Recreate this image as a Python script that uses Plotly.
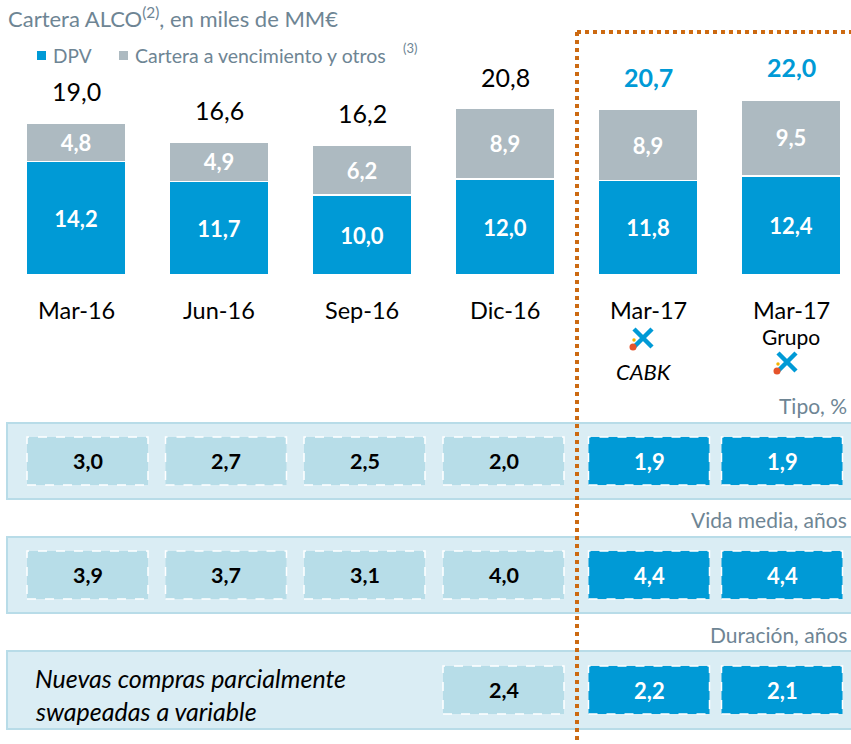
import plotly.graph_objects as go

# ---------------- data ----------------
categories = ["Mar-16", "Jun-16", "Sep-16", "Dic-16", "Mar-17", "Mar-17"]
sublabels = ["", "", "", "", "", "Grupo"]
dpv = [14.2, 11.7, 10.0, 12.0, 11.8, 12.4]
vencimiento = [4.8, 4.9, 6.2, 8.9, 8.9, 9.5]
totals = [19.0, 16.6, 16.2, 20.8, 20.7, 22.0]
tipo = [3.0, 2.7, 2.5, 2.0, 1.9, 1.9]
vida_media = [3.9, 3.7, 3.1, 4.0, 4.4, 4.4]
duracion = [None, None, None, 2.4, 2.2, 2.1]
highlight = [False, False, False, False, True, True]

# ---------------- style ----------------
W, H = 851, 744
BLUE = "#009ad6"
GREY = "#adbac1"
SLATE = "#6e8594"
ORANGE = "#cc6a12"
PANEL = "#daedf4"
PANEL_LINE = "#b8dce8"
LIGHTBOX = "#b7dde8"
FONT = "Lato"

X0, DX = 76, 143          # pixel centre of first bar, spacing
Y0, PXU = 275, 8.0        # pixel of value 0, pixels per unit


def fmt(v):
    return f"{v:.1f}".replace(".", ",")


def px2x(p):
    return (p - X0) / DX


def py2y(p):
    return (Y0 - p) / PXU


def px(p):
    return p / W


def py(p):
    return 1 - p / H


xs = list(range(len(categories)))

fig = go.Figure()
fig.add_trace(go.Bar(
    x=xs, y=dpv, name="DPV", marker=dict(color=BLUE, line=dict(color="white", width=1.5)),
    width=100 / DX, text=[fmt(v) for v in dpv], textposition="inside",
    insidetextanchor="middle", textangle=0,
    textfont=dict(family=FONT, size=22, color="white", weight="bold"),
    hoverinfo="skip"))
fig.add_trace(go.Bar(
    x=xs, y=vencimiento, name="Cartera a vencimiento y otros",
    marker=dict(color=GREY, line=dict(color="white", width=1.5)),
    width=100 / DX, text=[fmt(v) for v in vencimiento], textposition="inside",
    insidetextanchor="middle", textangle=0,
    textfont=dict(family=FONT, size=22, color="white", weight="bold"),
    hoverinfo="skip"))

shapes = []
ann = []

# title + legend
ann.append(dict(x=px(6), y=py(18), xref="paper", yref="paper", xanchor="left", yanchor="middle",
                text="Cartera ALCO<sup>(2)</sup>, en miles de MM€", showarrow=False,
                font=dict(family=FONT, size=22, color=SLATE)))
shapes.append(dict(type="rect", xref="paper", yref="paper", x0=px(37), x1=px(46), y0=py(60), y1=py(51),
                   fillcolor=BLUE, line=dict(width=0)))
ann.append(dict(x=px(51), y=py(55), xref="paper", yref="paper", xanchor="left", yanchor="middle",
                text="DPV", showarrow=False, font=dict(family=FONT, size=19, color=SLATE)))
shapes.append(dict(type="rect", xref="paper", yref="paper", x0=px(119), x1=px(128), y0=py(60), y1=py(51),
                   fillcolor=GREY, line=dict(width=0)))
ann.append(dict(x=px(133), y=py(55), xref="paper", yref="paper", xanchor="left", yanchor="middle",
                text="Cartera a vencimiento y otros", showarrow=False,
                font=dict(family=FONT, size=19.5, color=SLATE)))
ann.append(dict(x=px(401), y=py(48), xref="paper", yref="paper", xanchor="left", yanchor="middle",
                text="(3)", showarrow=False, font=dict(family=FONT, size=13, color=SLATE)))

# totals
for i, t in enumerate(totals):
    ann.append(dict(x=i, y=t, xref="x", yref="y", yshift=32, text=fmt(t), showarrow=False,
                    xanchor="center", yanchor="middle",
                    font=dict(family=FONT, size=25,
                              color=BLUE if highlight[i] else "black",
                              weight="bold" if highlight[i] else "normal")))

# category labels
for i, c in enumerate(categories):
    ann.append(dict(x=i, y=py(310), xref="x", yref="paper", text=c, showarrow=False,
                    xanchor="center", yanchor="middle", font=dict(family=FONT, size=23.5, color="black")))
    if sublabels[i]:
        ann.append(dict(x=i, y=py(337), xref="x", yref="paper", text=sublabels[i], showarrow=False,
                        xanchor="center", yanchor="middle", font=dict(family=FONT, size=21, color="black")))
ann.append(dict(x=4, y=py(371), xref="x", yref="paper", xshift=-4, text="<i>CABK</i>", showarrow=False,
                xanchor="center", yanchor="middle", font=dict(family=FONT, size=22, color="black")))

# logos (approximate CaixaBank star)
logo_centres = [(643, 338), (787, 362)]
fig.add_trace(go.Scatter(
    x=[px2x(a) for a, b in logo_centres], y=[py2y(b) for a, b in logo_centres],
    mode="markers", marker=dict(symbol="x-thin-open", size=18, color=BLUE, line=dict(color=BLUE, width=4.5)),
    hoverinfo="skip", showlegend=False))
fig.add_trace(go.Scatter(
    x=[px2x(a - 10) for a, b in logo_centres], y=[py2y(b + 9) for a, b in logo_centres],
    mode="markers", marker=dict(symbol="circle", size=7, color="#e5532b"),
    hoverinfo="skip", showlegend=False))
fig.add_trace(go.Scatter(
    x=[px2x(a - 9) for a, b in logo_centres], y=[py2y(b + 2) for a, b in logo_centres],
    mode="markers", marker=dict(symbol="circle", size=3.5, color="#f3b400"),
    hoverinfo="skip", showlegend=False))

# rows of boxes
box_centres = [87.5, 226, 364.5, 503.5, 649, 782]
rows = [
    ("Tipo, %", tipo, 406, 423, 499),
    ("Vida media, años", vida_media, 519, 537, 613),
    ("Duración, años", duracion, 634, 651, 729),
]
for label, vals, ly, top, bot in rows:
    ann.append(dict(x=px(849), y=py(ly), xref="paper", yref="paper", xanchor="right", yanchor="middle",
                    text=label, showarrow=False, font=dict(family=FONT, size=21, color=SLATE)))
    shapes.append(dict(type="rect", xref="paper", yref="paper", x0=px(7), x1=px(853),
                       y0=py(bot), y1=py(top), fillcolor=PANEL, line=dict(color=PANEL_LINE, width=2),
                       layer="below"))
    mid = (top + bot) / 2
    for i, v in enumerate(vals):
        if v is None:
            continue
        cx = box_centres[i]
        shapes.append(dict(type="rect", xref="paper", yref="paper", x0=px(cx - 60.5), x1=px(cx + 60.5),
                           y0=py(mid + 24), y1=py(mid - 24),
                           fillcolor=BLUE if highlight[i] else LIGHTBOX,
                           line=dict(color="white", width=1.5, dash="dash"), layer="below"))
        ann.append(dict(x=px(cx), y=py(mid), xref="paper", yref="paper", text=fmt(v), showarrow=False,
                        xanchor="center", yanchor="middle",
                        font=dict(family=FONT, size=22 if highlight[i] else 21.5, weight="bold",
                                  color="white" if highlight[i] else "black")))

ann.append(dict(x=px(33), y=py(678), xref="paper", yref="paper", xanchor="left", yanchor="middle",
                text="<i>Nuevas compras parcialmente</i>", showarrow=False,
                font=dict(family=FONT, size=25, color="black")))
ann.append(dict(x=px(33), y=py(711), xref="paper", yref="paper", xanchor="left", yanchor="middle",
                text="<i>swapeadas a variable</i>", showarrow=False,
                font=dict(family=FONT, size=25, color="black")))

# orange dotted frame
shapes.append(dict(type="line", xref="paper", yref="paper", x0=px(577), x1=px(577), y0=py(32), y1=py(746),
                   line=dict(color=ORANGE, width=4, dash="dot"), layer="above"))
shapes.append(dict(type="line", xref="paper", yref="paper", x0=px(577), x1=px(853), y0=py(32), y1=py(32),
                   line=dict(color=ORANGE, width=4, dash="dot"), layer="above"))

fig.update_layout(
    width=W, height=H, margin=dict(l=0, r=0, t=0, b=0),
    paper_bgcolor="white", plot_bgcolor="rgba(0,0,0,0)",
    barmode="stack", showlegend=False,
    xaxis=dict(range=[px2x(0), px2x(W)], visible=False, fixedrange=True),
    yaxis=dict(range=[py2y(H), py2y(0)], visible=False, fixedrange=True),
    shapes=shapes, annotations=ann,
)

fig.write_html("out.html", config={"displayModeBar": False},
               post_script="document.body.style.margin='0px';")
